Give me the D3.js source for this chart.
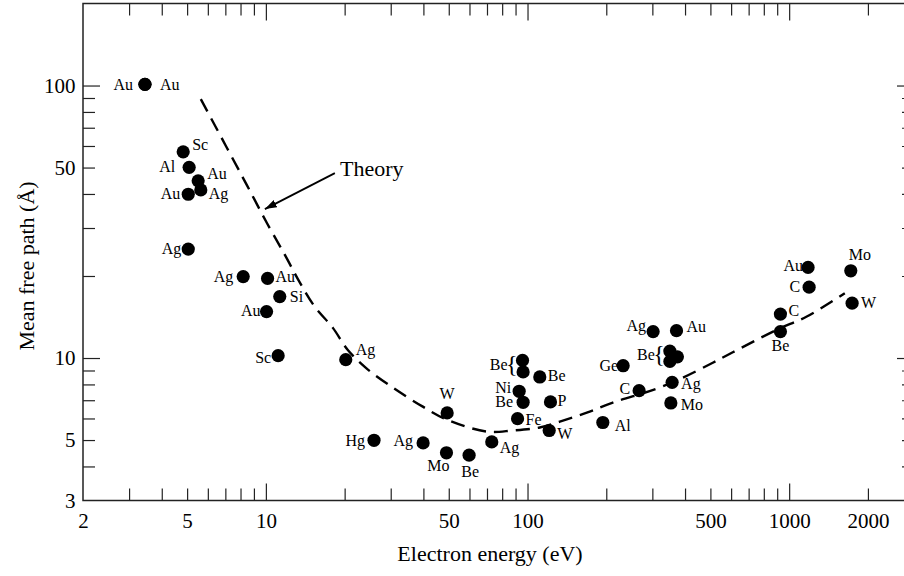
<!DOCTYPE html>
<html>
<head>
<meta charset="utf-8">
<script src="https://cdn.jsdelivr.net/npm/d3@7"></script>
<style>
  body { margin: 0; background: #fff; }
  svg { display: block; }
  text { font-family: "Liberation Serif", "Times New Roman", serif; fill: #000; }
  .tick line { stroke: #222; stroke-width: 1.2; }
  .tick text { font-size: 21px; }
  .lbl { font-size: 16px; }
</style>
</head>
<body>
<script>
var width = 904, height = 576;

// measured points: element, electron energy (eV), mean free path (Angstrom)
var elements = ["Au","Au","Sc","Al","Au","Ag","Au","Ag","Ag","Au","Si","Au","Sc","Ag","Hg","Ag","W","Mo","Be","Ag",
                "Be","Be","Be","Ni","Be","P","Fe","W","Al","Ge","C","Ag","Au","Be","Be","Be","Ag","Mo","Be","C","Au","C","Mo","W"];
var energies = [3.45,3.45,4.83,5.09,5.51,5.64,5.05,5.05,8.19,10.15,11.3,10.06,11.14,20.2,25.9,39.9,49.3,49.0,59.8,73.0,
                95.7,96.2,111.4,92.9,96.2,122.4,91.6,121,194,232,267,302,371,350,350,374,357,353,926,926,1181,1192,1720,1740];
var paths    = [101,101,57.1,50.1,44.7,41.4,39.9,25.1,19.9,19.6,16.8,14.8,10.2,9.86,4.99,4.88,6.29,4.49,4.40,4.92,
                9.80,8.89,8.52,7.55,6.88,6.90,5.99,5.42,5.80,9.37,7.59,12.5,12.6,10.6,9.72,10.1,8.14,6.84,12.5,14.5,21.5,18.2,20.9,15.9];

// points that share one bracketed label
var braceLabels  = ["Be", "Be"];
var braceMembers = [[20, 21], [33, 34, 35]];

// theory curve
var theoryE      = [5.64,8.46,10.09,11.82,13.49,15.39,18.03,20.57,24.3,30.6,39.8,49.2,69.9,87.8,111.4,132.9,168.5,211.8,311.9,392.2,510.6,609,897,1168,1632];
var theoryLambda = [89.1,43.1,31.3,23.9,18.9,15.4,12.9,10.7,9.14,7.78,6.63,5.94,5.37,5.42,5.56,5.84,6.30,6.86,7.72,8.47,9.61,10.5,12.7,14.2,17.3];

var xLabels = [2,5,10,50,100,500,1000,2000];
var xMajor  = [10,100,1000];
var xMinor  = [3,4,5,6,7,8,9,20,30,40,50,60,70,80,90,200,300,400,500,600,700,800,900,2000];
var yLabels = [3,5,10,50,100];
var yMajor  = [10,100];
var yMinor  = [4,5,6,7,8,9,20,30,40,50,60,70,80,90];

var theoryText = "Theory";

var x = d3.scaleLog().domain([2, 3000]).range([83, 914]);
var y = d3.scaleLog().domain([3, 200]).range([500.5, 3.5]);

var svg = d3.select("body").append("svg")
            .attr("width", width).attr("height", height);

// ticks, all pointing inward
function ticks(axis, vals, size, transform) {
    var g = svg.append("g").attr("transform", transform)
               .call(axis.tickValues(vals).tickSize(size).tickFormat(""));
    g.select(".domain").remove();
    return g;
}
ticks(d3.axisBottom(x), xMinor, -12, "translate(0,500.5)");
ticks(d3.axisBottom(x), xMajor, -17, "translate(0,500.5)");
ticks(d3.axisTop(x), xMinor, -12, "translate(0,3.5)");
ticks(d3.axisTop(x), xMajor, -17, "translate(0,3.5)");
ticks(d3.axisLeft(y), yMinor, -12, "translate(83,0)");
ticks(d3.axisLeft(y), yMajor, -17, "translate(83,0)");
ticks(d3.axisRight(y), yMinor, -12, "translate(914,0)");
ticks(d3.axisRight(y), yMajor, -17, "translate(914,0)");

var xl = svg.append("g").attr("transform", "translate(0,500.5)")
            .call(d3.axisBottom(x).tickValues(xLabels).tickSize(0).tickPadding(13).tickFormat(d3.format("d")));
xl.select(".domain").remove();
var yl = svg.append("g").attr("transform", "translate(83,0)")
            .call(d3.axisLeft(y).tickValues(yLabels).tickSize(0).tickPadding(7.5).tickFormat(d3.format("d")));
yl.select(".domain").remove();

svg.append("rect").attr("x", 83).attr("y", 3.5).attr("width", 831).attr("height", 497)
   .attr("fill", "none").attr("stroke", "#222").attr("stroke-width", 1.5);

// axis titles
svg.append("text").attr("x", 490).attr("y", 561).attr("text-anchor", "middle")
   .style("font-size", "22px").text("Electron energy (eV)");
svg.append("text").attr("transform", "translate(34,266) rotate(-90)").attr("text-anchor", "middle")
   .style("font-size", "22px").text("Mean free path (\u00C5)");

// theory curve
var line = d3.line().curve(d3.curveCatmullRom.alpha(0.5))
             .x(function(d){ return x(d[0]); }).y(function(d){ return y(d[1]); });
svg.append("path").datum(d3.zip(theoryE, theoryLambda)).attr("d", line)
   .attr("fill", "none").attr("stroke", "#000").attr("stroke-width", 2.4)
   .attr("stroke-dasharray", "14,8");

// arrow to the curve
svg.append("defs").append("marker").attr("id", "head")
   .attr("viewBox", "0 0 12 8").attr("refX", 12).attr("refY", 4)
   .attr("markerWidth", 12).attr("markerHeight", 8).attr("markerUnits", "userSpaceOnUse")
   .attr("orient", "auto")
   .append("path").attr("d", "M0,0L12,4L0,8Z").attr("fill", "#000");
svg.append("line").attr("x1", x(18.35)).attr("y1", y(47.7)).attr("x2", x(9.91)).attr("y2", y(35.2))
   .attr("stroke", "#000").attr("stroke-width", 1.8).attr("marker-end", "url(#head)");
svg.append("text").attr("x", x(19.2)).attr("y", y(46.5)).style("font-size", "22px").text(theoryText);

// points
var pts = d3.range(elements.length).map(function(i){
    return {name: elements[i], e: energies[i], l: paths[i], i: i};
});
svg.append("g").selectAll("circle").data(pts).enter().append("circle")
   .attr("cx", function(d){ return x(d.e); }).attr("cy", function(d){ return y(d.l); })
   .attr("r", 6.6).attr("fill", "#000");

// label placement: anchor, dx, dy from the dot
var place = {
    0:["end",-12,6], 1:["start",15,6], 2:["start",9,-2], 3:["end",-14,5], 4:["start",9,-2],
    5:["start",8,9], 6:["end",-8,5], 7:["end",-7,5], 8:["end",-10,5], 9:["start",8,4],
    10:["start",10,5], 11:["end",-6,4], 12:["end",-7,7], 13:["start",10,-5], 14:["end",-9,6],
    15:["end",-10,3], 16:["middle",0,-14], 17:["middle",-8,18], 18:["middle",1,22], 19:["start",8,11],
    22:["start",8,4], 23:["end",-8,2], 24:["end",-10,5], 25:["start",7,4], 26:["start",8,6],
    27:["start",8,8], 28:["start",12,9], 29:["end",-5,5], 30:["end",-9,3], 31:["end",-7,-1],
    32:["start",10,1], 36:["start",9,7], 37:["start",10,7], 38:["middle",0,19], 39:["start",8,2],
    40:["end",-5,4], 41:["end",-9,5], 42:["middle",9,-11], 43:["start",9,5]
};
svg.append("g").selectAll("text").data(pts.filter(function(d){ return place[d.i]; })).enter()
   .append("text").classed("lbl", true)
   .attr("x", function(d){ return x(d.e) + place[d.i][1]; })
   .attr("y", function(d){ return y(d.l) + place[d.i][2]; })
   .attr("text-anchor", function(d){ return place[d.i][0]; })
   .text(function(d){ return d.name; });

// bracketed labels
braceMembers.forEach(function(m, k){
    var xs = m.map(function(i){ return x(energies[i]); });
    var ys = m.map(function(i){ return y(paths[i]); });
    var bx = d3.min(xs) - 5, by = (d3.min(ys) + d3.max(ys)) / 2;
    svg.append("text").attr("x", bx).attr("y", by + 6).attr("text-anchor", "end")
       .style("font-size", "24px").text("{");
    svg.append("text").classed("lbl", true).attr("x", bx - 10).attr("y", by + 4)
       .attr("text-anchor", "end").text(braceLabels[k]);
});
</script>
</body>
</html>
